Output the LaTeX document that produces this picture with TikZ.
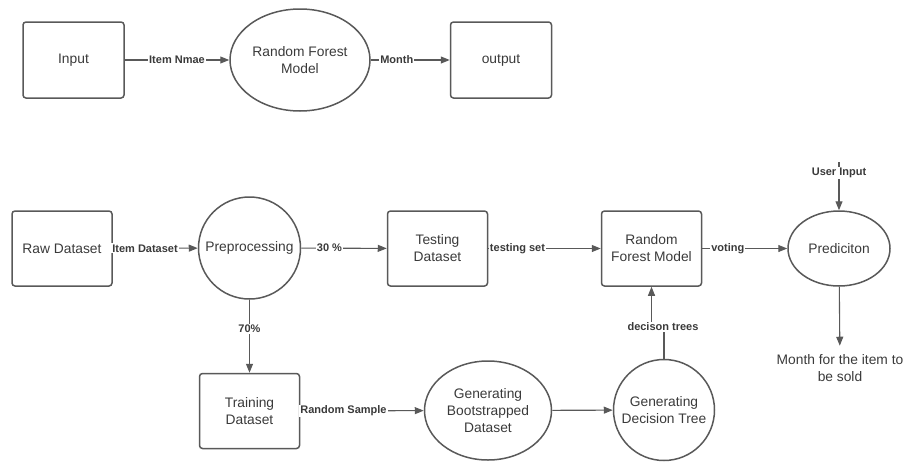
\documentclass[tikz,border=0pt]{standalone}
\usepackage{fontspec}
\setmainfont{Liberation Sans}
\usetikzlibrary{arrows.meta,shapes.geometric}

\definecolor{lineg}{HTML}{595959}
\definecolor{textg}{HTML}{3A3A3A}

\tikzset{
  box/.style={draw=lineg, line width=1.5pt, rounded corners=3pt,
    minimum width=100pt, minimum height=75pt, align=center,
    text=textg, font=\fontsize{13.8}{17}\selectfont},
  oval/.style={ellipse, draw=lineg, line width=1.5pt, inner sep=0pt,
    align=center, text=textg, font=\fontsize{13.8}{17}\selectfont},
  ball/.style={circle, draw=lineg, line width=1.5pt, inner sep=0pt,
    align=center, text=textg, font=\fontsize{13.8}{17}\selectfont},
  arr/.style={draw=lineg, line width=1.1pt, -{Triangle[length=9pt,width=7pt]}},
  flow/.style={draw=lineg, line width=1.1pt},
  elabel/.style={fill=white, inner sep=1pt, text=textg,
    font=\bfseries\fontsize{11}{13}\selectfont},
}

\begin{document}
\begin{tikzpicture}[x=1pt,y=-1pt]
  \useasboundingbox (0,0) rectangle (903,461);

  % model overview
  \node[box, minimum width=101pt, minimum height=76pt] (input) at (73.5,60) {Input};
  \node[oval, minimum width=140pt, minimum height=102pt] (model) at (300,60) {Random Forest\\Model};
  \node[box, minimum width=101pt, minimum height=76pt] (output) at (501,60) {output};
  \draw[arr] (input) -- node[elabel] {Item Nmae} (model);
  \draw[arr] (model) -- node[elabel, pos=.33] {Month} (output);

  % pipeline
  \node[box] (raw) at (62,248.5) {Raw Dataset};
  \node[ball, minimum size=102pt] (prep) at (249.5,248) {Preprocessing};
  \node[box] (test) at (437.5,248.5) {Testing\\Dataset};
  \node[box] (forest) at (651.5,248.5) {Random\\Forest Model};
  \node[oval, minimum width=102pt, minimum height=75pt] (pred) at (839,248.5) {Prediciton};
  \node[box] (train) at (249.5,411) {Training\\Dataset};
  \node[oval, minimum width=127pt, minimum height=99pt] (boot) at (488,410.5) {Generating\\Bootstrapped\\Dataset};
  \node[ball, minimum size=101pt] (tree) at (664,410) {Generating\\Decision Tree};
  \coordinate (user) at (839,162);
  \node[align=center, inner ysep=9pt, text=textg, font=\fontsize{13.8}{17}\selectfont]
    (month) at (840,368.5) {Month for the item to\\be sold};

  \draw[arr] (raw) -- node[elabel, pos=.38] {Item Dataset} (prep);
  \draw[arr] (prep) -- node[elabel, pos=.33] {30 \%} (test);
  \draw[arr] (test) -- node[elabel, pos=.26] {testing set} (forest);
  \draw[arr] (forest) -- node[elabel, pos=.3] {voting} (pred);
  \draw[arr] (user) -- node[elabel, pos=.22] {User Input} (pred);
  \draw[arr] (pred) -- (month);
  \draw[arr] (prep) -- node[elabel, pos=.4] {70\%} (train);
  \draw[arr] (train) -- node[elabel, pos=.35] {Random Sample} (boot);
  \draw[arr] (boot) -- (tree);

  \node[elabel] (votes) at (663,327) {decison trees};
  \draw[flow] (tree) -- (tree |- votes.south);
  \draw[arr] (forest |- votes.north) -- (forest);
\end{tikzpicture}
\end{document}
